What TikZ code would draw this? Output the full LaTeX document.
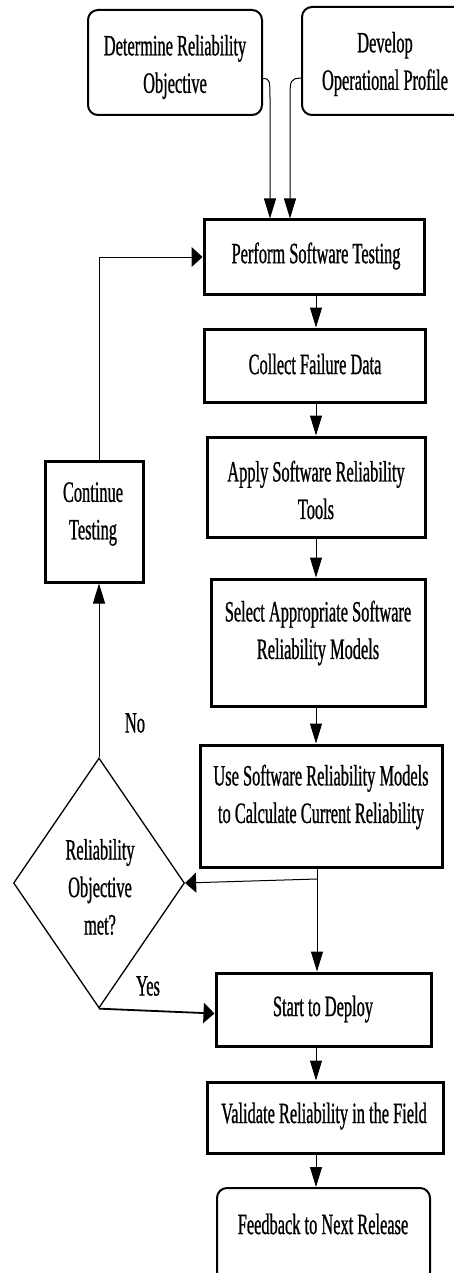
\documentclass[tikz,border=0pt]{standalone}
\usepackage{fontspec}
\usetikzlibrary{arrows.meta,shapes.geometric,calc}
\newfontfamily\fs[FakeStretch=0.555,FakeBold=0.8]{Liberation Serif}
\begin{document}
\begin{tikzpicture}[x=1pt,y=-1pt,
  sq/.style={draw, line width=3pt, inner sep=0},
  rnd/.style={draw, line width=2pt, rounded corners=10pt, inner sep=0},
  lbl/.style={font=\fs\fontsize{29.5}{37.5}\selectfont, align=center, inner sep=0},
  conn/.style={line width=1pt},
  vt/.style={-{Triangle[length=20pt,width=12pt]}},
  ht/.style={-{Triangle[length=11pt,width=20pt]}}]
\useasboundingbox (0,0) rectangle (454,1273);
\clip (0,0) rectangle (454,1273);
% boxes
\node[rnd, minimum width=174pt, minimum height=105pt] (det) at (175,62.5) {};
\node[rnd, minimum width=166pt, minimum height=108pt] (dev) at (385,61) {};
\node[sq, minimum width=220pt, minimum height=74pt] (perf) at (314,257) {};
\node[sq, minimum width=221pt, minimum height=73pt] (coll) at (314.5,365.5) {};
\node[sq, minimum width=218pt, minimum height=100pt] (apply) at (316,487) {};
\node[sq, minimum width=214pt, minimum height=127pt] (sel) at (318,642.5) {};
\node[sq, minimum width=242pt, minimum height=122pt] (use) at (321,806) {};
\node[sq, minimum width=98pt, minimum height=121pt] (cont) at (94,521.5) {};
\node[draw, diamond, line width=1.3pt, inner sep=0, minimum width=171pt, minimum height=250pt] (dia) at (99,883) {};
\node[sq, minimum width=215pt, minimum height=73pt] (start) at (323.5,1009.5) {};
\node[sq, minimum width=236pt, minimum height=71pt] (valid) at (325,1117.5) {};
\node[rnd, minimum width=213pt, minimum height=106pt] (feed) at (323.5,1241) {};
% texts
\node[lbl] (tdet) at (175,67) {Determine Reliability\\Objective};
\node[lbl] (tdev) at (385,64) {Develop\\Operational Profile};
\node[lbl] (tperf) at (316,256) {Perform Software Testing};
\node[lbl] (tcoll) at (315,364) {Collect Failure Data};
\node[lbl] (tapply) at (316,490) {Apply Software Reliability\\Tools};
\node[lbl] (tsel) at (318,633) {Select Appropriate Software\\Reliability Models};
\node[lbl] (tuse) at (321,797) {Use Software Reliability Models\\to Calculate Current Reliability};
\node[lbl] (tcont) at (93,514) {Continue\\Testing};
\node[lbl] (tdia) at (100,887) {Reliability\\Objective\\met?};
\node[lbl] (tstart) at (323,1009) {Start to Deploy};
\node[lbl] (tvalid) at (324,1116) {Validate Reliability in the Field};
\node[lbl] (tfeed) at (323,1224) {Feedback to Next Release};
\node[lbl] (tno) at (135,723) {No};
\node[lbl] (tyes) at (148,986) {Yes};
% connectors
\draw[conn,vt] ($(det.east)+(0,16)$) .. controls (270,79) .. (270,102) -- (270,0 |- perf.north);
\draw[conn,vt] ($(dev.west)+(0,17)$) .. controls (290,79) .. (290,102) -- (290,0 |- perf.north);
\draw[conn,vt] (316,0 |- perf.south) -- (316,0 |- coll.north);
\draw[conn,vt] (316,0 |- coll.south) -- (316,0 |- apply.north);
\draw[conn,vt] (316,0 |- apply.south) -- (316,0 |- sel.north);
\draw[conn,vt] (316,0 |- sel.south) -- (316,0 |- use.north);
\coordinate (j) at (317,879);
\draw[conn,vt] (317,0 |- use.south) -- (317,0 |- start.north);
\draw[conn,ht] (j) -- (dia.east);
\draw[conn,vt] (dia.north) -- (dia.north |- cont.south);
\draw[conn,ht] (cont.north -| dia.north) |- (perf.west);
\draw[conn,ht,line width=1.8pt] (dia.south) -- ($(start.west)+(0,4)$);
\draw[conn,vt] (316,0 |- start.south) -- (316,0 |- valid.north);
\draw[conn,vt] (316,0 |- valid.south) -- (316,0 |- feed.north);
\end{tikzpicture}
\end{document}
